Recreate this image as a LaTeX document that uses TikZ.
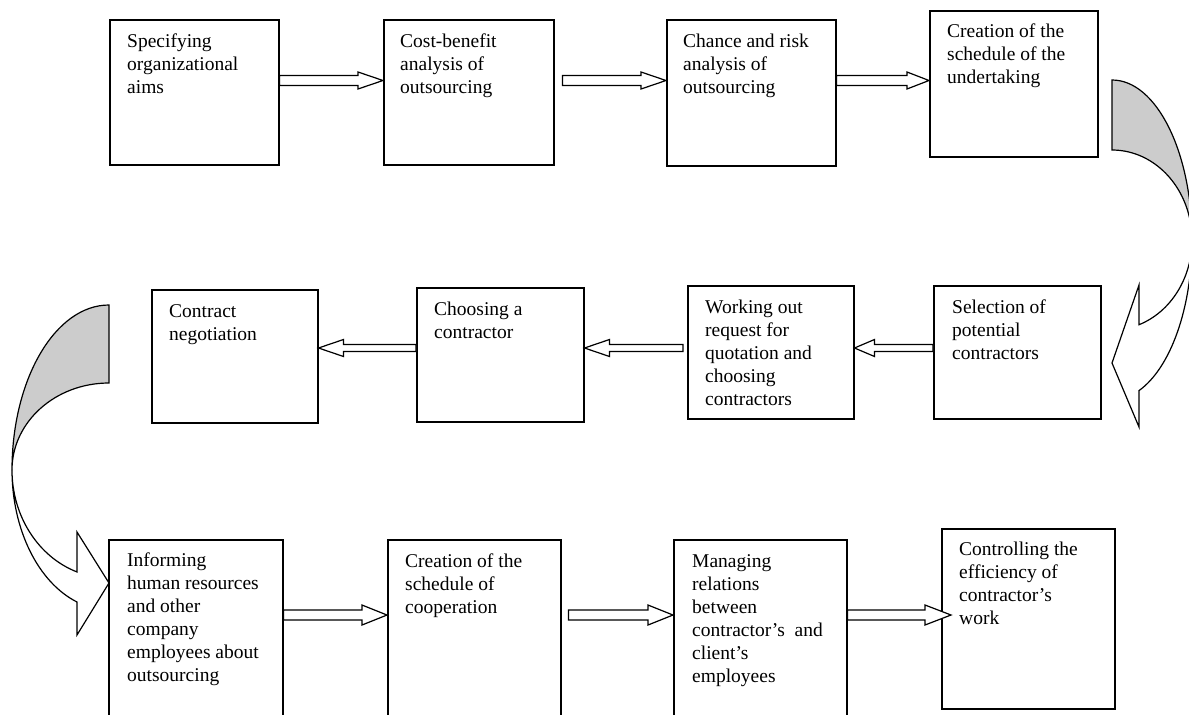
\documentclass[tikz,border=0pt]{standalone}
\usepackage{fontspec}
\setmainfont{Liberation Serif}
\usetikzlibrary{calc}
\begin{document}
\begin{tikzpicture}[x=1pt,y=1pt,
  box/.style={draw, line width=1.5pt, inner sep=0pt, anchor=north west},
  txt/.style={anchor=base west, inner sep=0pt, font=\fontsize{19.5}{23}\selectfont},
  harrow/.style n args={3}{line width=1.2pt, fill=white, to path={
    let \p1=(\tikztostart), \p2=(\tikztotarget), \n1={ifthenelse(\x2>\x1,1,-1)} in
    (\x1,\y1+#1) -- (\x2-\n1*#3,\y1+#1) -- (\x2-\n1*#3,\y1+#2) -- (\x2,\y2)
    -- (\x2-\n1*#3,\y1-#2) -- (\x2-\n1*#3,\y1-#1) -- (\x1,\y1-#1) -- cycle}},
  band/.style={line width=1.2pt}
]
\useasboundingbox (0,0) rectangle (1189,-715);
\clip (0,0) rectangle (1189,-715);

% row 1
\node[box, minimum width=169pt, minimum height=145pt] (b1) at (109,-19) {};
\node[box, minimum width=170pt, minimum height=145pt] (b2) at (383,-19) {};
\node[box, minimum width=169pt, minimum height=146pt] (b3) at (666,-19) {};
\node[box, minimum width=168pt, minimum height=146pt] (b4) at (929,-10) {};
% row 2
\node[box, minimum width=166pt, minimum height=133pt] (c1) at (151,-289) {};
\node[box, minimum width=167pt, minimum height=134pt] (c2) at (416,-287) {};
\node[box, minimum width=166pt, minimum height=133pt] (c3) at (687,-285) {};
\node[box, minimum width=167pt, minimum height=133pt] (c4) at (933,-285) {};
% row 3
\node[box, minimum width=174pt, minimum height=200pt] (d1) at (108,-539) {};
\node[box, minimum width=173pt, minimum height=200pt] (d2) at (387,-539) {};
\node[box, minimum width=173pt, minimum height=200pt] (d3) at (673,-539) {};
\node[box, minimum width=173pt, minimum height=180pt] (d4) at (941,-528) {};

% texts
\node[txt] (t1) at ($(b1.north west)+(18,-28)$) {\parbox[t]{200pt}{Specifying\\organizational\\aims}};
\node[txt] (t2) at ($(b2.north west)+(17,-28)$) {\parbox[t]{200pt}{Cost-benefit\\analysis of\\outsourcing}};
\node[txt] (t3) at ($(b3.north west)+(17,-28)$) {\parbox[t]{200pt}{Chance and risk\\analysis of\\outsourcing}};
\node[txt] (t4) at ($(b4.north west)+(18,-27)$) {\parbox[t]{200pt}{Creation of the\\schedule of the\\undertaking}};
\node[txt] (t5) at ($(c1.north west)+(18,-28)$) {\parbox[t]{200pt}{Contract\\negotiation}};
\node[txt] (t6) at ($(c2.north west)+(18,-28)$) {\parbox[t]{200pt}{Choosing a\\contractor}};
\node[txt] (t7) at ($(c3.north west)+(18,-28)$) {\parbox[t]{200pt}{Working out\\request for\\quotation and\\choosing\\contractors}};
\node[txt] (t8) at ($(c4.north west)+(19,-28)$) {\parbox[t]{200pt}{Selection of\\potential\\contractors}};
\node[txt] (t9) at ($(d1.north west)+(19,-27)$) {\parbox[t]{200pt}{Informing\\human resources\\and other\\company\\employees about\\outsourcing}};
\node[txt] (t10) at ($(d2.north west)+(18,-28)$) {\parbox[t]{200pt}{Creation of the\\schedule of\\cooperation}};
\node[txt] (t11) at ($(d3.north west)+(19,-28)$) {\parbox[t]{200pt}{Managing\\relations\\between\\contractor’s~ and\\client’s\\employees}};
\node[txt] (t12) at ($(d4.north west)+(18,-27)$) {\parbox[t]{200pt}{Controlling the\\efficiency of\\contractor’s\\work}};

% arrow levels
\coordinate (r1) at (0,-80.5);
\coordinate (r2) at (0,-348);
\coordinate (r3) at (0,-615);
\coordinate (a2s) at ($(b2.east |- r1)+(8,0)$);
\coordinate (a5s) at ($(c3.west |- r2)+(-4,0)$);
\coordinate (a8s) at ($(d2.east |- r3)+(7,0)$);
\coordinate (a9e) at ($(d4.west |- r3)+(10,0)$);

% straight block arrows
\draw[harrow={5}{8.5}{25}] (b1.east |- r1) to (b2.west |- r1);
\draw[harrow={5}{8.5}{25}] (a2s) to (b3.west |- r1);
\draw[harrow={5}{8.5}{22}] (b3.east |- r1) to (b4.west |- r1);
\draw[harrow={3.5}{8.5}{20}] (c4.west |- r2) to (c3.east |- r2);
\draw[harrow={3.5}{8.5}{25}] (a5s) to (c2.east |- r2);
\draw[harrow={3.5}{8.5}{25}] (c2.west |- r2) to (c1.east |- r2);
\draw[harrow={5}{10}{25}] (d1.east |- r3) to (d2.west |- r3);
\draw[harrow={5}{10}{25}] (a8s) to (d3.west |- r3);
\draw[harrow={5}{10}{26}] (d3.east |- r3) to (a9e);

% right curved arrow
\draw[band, fill=black!20] (1112,-80) arc[start angle=90, end angle=0, x radius=80, y radius=160]
  arc[start angle=0, end angle=90, x radius=80, y radius=90] -- cycle;
\draw[band, fill=white] (1192,-240) arc[start angle=0, end angle=-70.27, x radius=80, y radius=90]
  -- (1139,-285) -- (1112,-363) -- (1139,-427) -- (1139,-390.6)
  arc[start angle=-70.27, end angle=0, x radius=80, y radius=160] -- cycle;

% left curved arrow
\draw[band, fill=black!20] (109,-305) arc[start angle=90, end angle=180, x radius=97, y radius=165]
  arc[start angle=180, end angle=90, x radius=97, y radius=87] -- cycle;
\draw[band, fill=white] (12,-470) arc[start angle=180, end angle=250.74, x radius=97, y radius=108]
  -- (77,-532) -- (109,-583) -- (77,-635) -- (77,-602)
  arc[start angle=250.74, end angle=180, x radius=97, y radius=140] -- cycle;
\end{tikzpicture}
\end{document}
